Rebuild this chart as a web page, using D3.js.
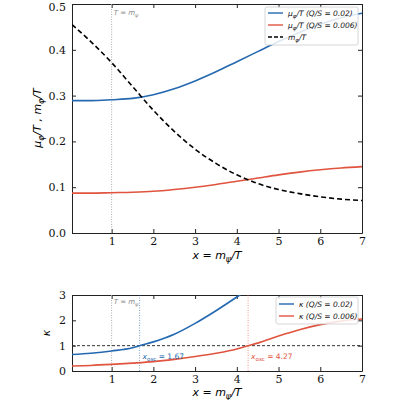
<!DOCTYPE html>
<html>
<head>
<meta charset="utf-8">
<script src="https://cdn.jsdelivr.net/npm/d3@7"></script>
<style>
body { margin: 0; background: #fff; }
text { font-family: "DejaVu Sans", sans-serif; }
.tick text { font-family: "DejaVu Serif", serif; font-size: 11px; }
</style>
</head>
<body>
<div id="chart"></div>
<script>
var xs = [0.05, 0.5, 1, 1.5, 2, 2.5, 3, 3.5, 4, 4.5, 5, 5.5, 6, 6.5, 7];
var muBlue = [0.289, 0.289, 0.291, 0.294, 0.302, 0.315, 0.332, 0.352, 0.374, 0.396, 0.418, 0.438, 0.456, 0.470, 0.480];
var muRed = [0.087, 0.087, 0.088, 0.089, 0.091, 0.095, 0.100, 0.106, 0.113, 0.120, 0.127, 0.133, 0.138, 0.142, 0.145];
var mPhi = [0.455, 0.418, 0.372, 0.320, 0.268, 0.222, 0.183, 0.152, 0.127, 0.108, 0.095, 0.086, 0.079, 0.074, 0.071];

var kxBlue = [0.05, 0.5, 1, 1.5, 1.67, 2, 2.5, 3, 3.5, 4, 4.5];
var kBlue = [0.65, 0.70, 0.79, 0.92, 1.0, 1.15, 1.45, 1.88, 2.38, 2.92, 3.5];
var kxRed = [0.05, 0.5, 1, 1.5, 2, 2.5, 3, 3.5, 4, 4.27, 4.5, 5, 5.5, 6, 6.5, 7];
var kRed = [0.20, 0.22, 0.26, 0.31, 0.37, 0.46, 0.57, 0.70, 0.87, 1.0, 1.1, 1.38, 1.63, 1.83, 1.97, 2.05];

var xOsc = [1.67, 4.27];
var xTicks = [1, 2, 3, 4, 5, 6, 7];
var yTicksTop = [0.0, 0.1, 0.2, 0.3, 0.4, 0.5];
var yTicksBot = [0, 1, 2, 3];

var blue = "#2468b0", red = "#e0533e";

var svg = d3.select("#chart").append("svg")
  .attr("width", 400).attr("height", 400);

var x = d3.scaleLinear().domain([0.05, 7]).range([72, 362]);
var yT = d3.scaleLinear().domain([0, 0.5]).range([233, 4]);
var yB = d3.scaleLinear().domain([0, 3]).range([371, 295]);

function panel(y, ticks, fmt, top, bottom) {
  var g = svg.append("g");
  g.append("defs").append("clipPath").attr("id", "clip" + top)
    .append("rect").attr("x", 72).attr("y", top).attr("width", 290).attr("height", bottom - top);
  g.append("g").attr("transform", "translate(0," + bottom + ")")
    .call(d3.axisBottom(x).tickValues(xTicks).tickSizeInner(-4).tickSizeOuter(0).tickPadding(4).tickFormat(d3.format("d")));
  g.append("g").attr("transform", "translate(0," + top + ")")
    .call(d3.axisTop(x).tickValues(xTicks).tickSizeInner(-4).tickSizeOuter(0).tickFormat(""));
  var ya = g.append("g").attr("transform", "translate(72,0)")
    .call(d3.axisLeft(y).tickValues(ticks).tickSizeInner(-4).tickSizeOuter(0).tickPadding(6).tickFormat(fmt));
  g.append("g").attr("transform", "translate(362,0)")
    .call(d3.axisRight(y).tickValues(ticks).tickSizeInner(-4).tickSizeOuter(0).tickFormat(""));
  g.selectAll(".domain").attr("stroke", "#222");
  g.selectAll(".tick line").attr("stroke", "#222");
  g.selectAll(".tick text").attr("fill", "#111");
  return ya;
}

var yaT = panel(yT, yTicksTop, d3.format(".1f"), 4, 233);
// keep the top label inside the picture
yaT.selectAll(".tick text").filter(function(d) { return d === 0.5; }).attr("dy", "0.55em");
var yaB = panel(yB, yTicksBot, d3.format("d"), 295, 371);

var lineT = function(ys) {
  return d3.line().curve(d3.curveMonotoneX).x(function(d, i) { return x(xs[i]); }).y(function(d) { return yT(d); })(ys);
};

var plotT = svg.append("g").attr("clip-path", "url(#clip4)");
plotT.append("line").attr("x1", x(1)).attr("x2", x(1)).attr("y1", 4).attr("y2", 233)
  .attr("stroke", "#aaa").attr("stroke-width", 1).attr("stroke-dasharray", "1,1.5");
plotT.append("path").attr("d", lineT(muBlue)).attr("fill", "none").attr("stroke", blue).attr("stroke-width", 1.6);
plotT.append("path").attr("d", lineT(muRed)).attr("fill", "none").attr("stroke", red).attr("stroke-width", 1.6);
plotT.append("path").attr("d", lineT(mPhi)).attr("fill", "none").attr("stroke", "#000").attr("stroke-width", 1.6).attr("stroke-dasharray", "5,3");

function tmLabel(g, yy) {
  var t = g.append("text").attr("x", x(1) + 2).attr("y", yy).attr("font-size", 7).attr("fill", "#888").attr("font-style", "italic");
  t.append("tspan").text("T = m");
  t.append("tspan").attr("font-size", 5).attr("dy", 2).text("ψ");
}
tmLabel(svg, 15);

// top legend
var lgT = svg.append("g").attr("transform", "translate(265,7)");
lgT.append("rect").attr("width", 93).attr("height", 38).attr("rx", 2)
  .attr("fill", "#fff").attr("fill-opacity", 0.85).attr("stroke", "#ccc").attr("stroke-width", 0.8);
var legT = [
  { c: blue, d: null, main: "μ", sub: "φ", rest: "/T (Q/S = 0.02)" },
  { c: red, d: null, main: "μ", sub: "φ", rest: "/T (Q/S = 0.006)" },
  { c: "#000", d: "4,2", main: "m", sub: "φ", rest: "/T" }
];
legT.forEach(function(e, i) {
  var yy = 6 + i * 12;
  lgT.append("line").attr("x1", 3).attr("x2", 18).attr("y1", yy).attr("y2", yy)
    .attr("stroke", e.c).attr("stroke-width", 1.4).attr("stroke-dasharray", e.d);
  var t = lgT.append("text").attr("x", 23).attr("y", yy + 3).attr("font-size", 7.5).attr("font-style", "italic").attr("fill", "#111");
  t.append("tspan").text(e.main);
  t.append("tspan").attr("font-size", 5.5).attr("dy", 2).text(e.sub);
  t.append("tspan").attr("dy", -2).text(e.rest);
});

// top labels
var xl1 = svg.append("text").attr("x", 217).attr("y", 259).attr("text-anchor", "middle").attr("font-size", 11).attr("font-style", "italic");
xl1.append("tspan").text("x = m");
xl1.append("tspan").attr("font-size", 8).attr("dy", 3).text("ψ");
xl1.append("tspan").attr("dy", -3).text("/T");

var yl1 = svg.append("text").attr("transform", "translate(41,118) rotate(-90)").attr("text-anchor", "middle").attr("font-size", 11).attr("font-style", "italic");
yl1.append("tspan").text("μ");
yl1.append("tspan").attr("font-size", 8).attr("dy", 3).text("φ");
yl1.append("tspan").attr("dy", -3).text("/T ,    m");
yl1.append("tspan").attr("font-size", 8).attr("dy", 3).text("φ");
yl1.append("tspan").attr("dy", -3).text("/T");

// bottom panel
var plotB = svg.append("g").attr("clip-path", "url(#clip295)");
var lineB = function(xv, yv) {
  return d3.line().curve(d3.curveMonotoneX).x(function(d, i) { return x(xv[i]); }).y(function(d) { return yB(d); })(yv);
};
plotB.append("line").attr("x1", x(1)).attr("x2", x(1)).attr("y1", 295).attr("y2", 371)
  .attr("stroke", "#aaa").attr("stroke-width", 1).attr("stroke-dasharray", "1,1.5");
plotB.append("line").attr("x1", x(xOsc[0])).attr("x2", x(xOsc[0])).attr("y1", 295).attr("y2", 371)
  .attr("stroke", blue).attr("stroke-opacity", 0.6).attr("stroke-width", 1).attr("stroke-dasharray", "1,1.5");
plotB.append("line").attr("x1", x(xOsc[1])).attr("x2", x(xOsc[1])).attr("y1", 295).attr("y2", 371)
  .attr("stroke", red).attr("stroke-opacity", 0.6).attr("stroke-width", 1).attr("stroke-dasharray", "1,1.5");
plotB.append("line").attr("x1", 72).attr("x2", 362).attr("y1", yB(1)).attr("y2", yB(1))
  .attr("stroke", "#333").attr("stroke-width", 1).attr("stroke-dasharray", "3,2");
plotB.append("path").attr("d", lineB(kxBlue, kBlue)).attr("fill", "none").attr("stroke", blue).attr("stroke-width", 1.6);
plotB.append("path").attr("d", lineB(kxRed, kRed)).attr("fill", "none").attr("stroke", red).attr("stroke-width", 1.6);
tmLabel(svg, 304);

[[xOsc[0], blue], [xOsc[1], red]].forEach(function(p) {
  var t = svg.append("text").attr("x", x(p[0]) + 3).attr("y", yB(1) + 13).attr("font-size", 7.5).attr("fill", p[1]);
  t.append("tspan").attr("font-style", "italic").text("x");
  t.append("tspan").attr("font-size", 5.5).attr("dy", 2).text("osc");
  t.append("tspan").attr("dy", -2).text(" = " + p[0].toFixed(2));
});

var lgB = svg.append("g").attr("transform", "translate(276,297)");
lgB.append("rect").attr("width", 82).attr("height", 27).attr("rx", 2)
  .attr("fill", "#fff").attr("fill-opacity", 0.85).attr("stroke", "#ccc").attr("stroke-width", 0.8);
[[blue, "κ (Q/S = 0.02)"], [red, "κ (Q/S = 0.006)"]].forEach(function(e, i) {
  var yy = 7 + i * 12;
  lgB.append("line").attr("x1", 3).attr("x2", 18).attr("y1", yy).attr("y2", yy)
    .attr("stroke", e[0]).attr("stroke-width", 1.4);
  lgB.append("text").attr("x", 23).attr("y", yy + 3).attr("font-size", 7.5).attr("font-style", "italic").attr("fill", "#111").text(e[1]);
});

var xl2 = svg.append("text").attr("x", 217).attr("y", 396).attr("text-anchor", "middle").attr("font-size", 11).attr("font-style", "italic");
xl2.append("tspan").text("x = m");
xl2.append("tspan").attr("font-size", 8).attr("dy", 3).text("ψ");
xl2.append("tspan").attr("dy", -3).text("/T");

svg.append("text").attr("transform", "translate(50,333) rotate(-90)").attr("text-anchor", "middle")
  .attr("font-size", 11).attr("font-style", "italic").text("κ");
</script>
</body>
</html>
